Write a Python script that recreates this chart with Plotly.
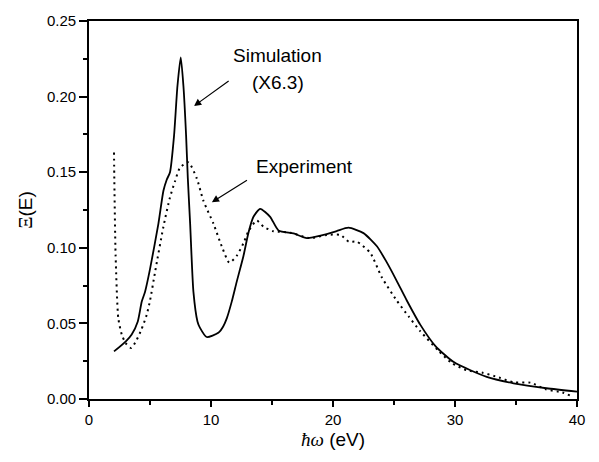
import plotly.graph_objects as go

# Simulation (scaled x6.3)
sim_x = [2.05, 3.0, 3.5, 4.0, 4.32, 4.59, 5.0, 5.69, 6.1, 6.37, 6.64, 6.97, 7.25, 7.52,
         7.74, 7.96, 8.1, 8.29, 8.56, 8.89, 9.1, 9.65, 10.6, 11.0, 11.3, 11.7, 12.1,
         12.66, 13.07, 13.48, 14.03, 14.85, 15.53, 16.76, 17.86, 19.22, 20.3, 21.27,
         22.5, 23.6, 24.4, 25.2, 26.06, 27.15, 28.38, 29.9, 32.6, 34.8, 37.5, 40.0]
sim_y = [0.0315, 0.038, 0.0427, 0.0513, 0.0643, 0.0708, 0.0859, 0.116, 0.1377, 0.145,
         0.150, 0.174, 0.207, 0.226, 0.207, 0.174, 0.146, 0.116, 0.0708, 0.0513, 0.047,
         0.041, 0.0438, 0.048, 0.0535, 0.0644, 0.0773, 0.0946, 0.110, 0.1205, 0.1258,
         0.1205, 0.1115, 0.1095, 0.1064, 0.1085, 0.1111, 0.1133, 0.1097, 0.101, 0.0905,
         0.0785, 0.0650, 0.0492, 0.0352, 0.0244, 0.0146, 0.0104, 0.0071, 0.0049]

# Experiment
exp_x = [2.05, 2.07, 2.18, 2.4, 2.68, 3.0, 3.45, 3.9, 4.3, 4.73, 5.0, 5.41, 6.1, 6.64,
         7.05, 7.46, 8.15, 8.83, 9.38, 10.2, 10.88, 11.5, 12.1, 12.66, 13.07, 13.75,
         14.3, 15.1, 16.5, 18.1, 19.5, 20.6, 21.3, 21.96, 23.05, 24.0, 25.2, 26.2,
         27.15, 28.65, 29.75, 30.98, 32.2, 33.6, 34.8, 36.2, 37.4, 38.8, 39.5]
exp_y = [0.163, 0.1486, 0.095, 0.0535, 0.0427, 0.037, 0.0337, 0.039, 0.046, 0.0557,
         0.065, 0.0837, 0.114, 0.1334, 0.144, 0.153, 0.1565, 0.146, 0.131, 0.116, 0.101,
         0.0902, 0.0946, 0.103, 0.111, 0.118, 0.114, 0.111, 0.110, 0.1064, 0.1085,
         0.1085, 0.104, 0.104, 0.0967, 0.0805, 0.0654, 0.0546, 0.0449, 0.0319, 0.0237,
         0.019, 0.0175, 0.0142, 0.011, 0.0108, 0.0065, 0.0043, 0.0021]

FONT = "Liberation Sans, Arial, sans-serif"
SERIF = "Liberation Serif, Times New Roman, serif"

fig = go.Figure()

fig.add_trace(go.Scatter(
    x=sim_x, y=sim_y, mode="lines", name="Simulation",
    line=dict(color="black", width=1.8, shape="spline", smoothing=0.6)
))
fig.add_trace(go.Scatter(
    x=exp_x, y=exp_y, mode="lines", name="Experiment",
    line=dict(color="black", width=2, dash="2px,4px", shape="spline", smoothing=0.6)
))

# ─── Labels with arrows ─────────────────────
fig.add_annotation(x=15.46, y=0.2275, text="Simulation", showarrow=False,
                   font=dict(family=FONT, size=19, color="black"))
fig.add_annotation(x=15.46, y=0.2094, text="(X6.3)", showarrow=False,
                   font=dict(family=FONT, size=19, color="black"))
fig.add_annotation(x=8.61, y=0.1938, ax=11.57, ay=0.2111, axref="x", ayref="y",
                   text="", showarrow=True, arrowhead=2, arrowsize=1.2,
                   arrowwidth=1.2, arrowcolor="black")

fig.add_annotation(x=17.7, y=0.1535, text="Experiment", showarrow=False,
                   font=dict(family=FONT, size=19, color="black"))
fig.add_annotation(x=10.07, y=0.1302, ax=13.07, ay=0.1453, axref="x", ayref="y",
                   text="", showarrow=True, arrowhead=2, arrowsize=1.2,
                   arrowwidth=1.2, arrowcolor="black")

axis_common = dict(
    showline=True, linecolor="black", linewidth=1.8, mirror=True,
    ticks="outside", tickcolor="black", tickwidth=1.5,
    showgrid=False, zeroline=False,
    tickfont=dict(family=FONT, size=15, color="black"),
)

fig.update_xaxes(
    range=[0, 40], tickvals=[0, 10, 20, 30, 40], ticklen=6,
    minor=dict(ticks="outside", tickvals=[5, 15, 25, 35], ticklen=4,
               tickcolor="black", tickwidth=1.5),
    title=dict(text=f'<span style="font-family:{SERIF}"><i>ħω</i></span> (eV)',
               font=dict(family=FONT, size=19, color="black"), standoff=6),
    **axis_common
)
fig.update_yaxes(
    range=[0, 0.25], tickvals=[0, 0.05, 0.10, 0.15, 0.20, 0.25],
    ticktext=["0.00", "0.05", "0.10", "0.15", "0.20", "0.25"], ticklen=8,
    minor=dict(ticks="outside", tickvals=[0.025, 0.075, 0.125, 0.175, 0.225],
               ticklen=4, tickcolor="black", tickwidth=1.5),
    title=dict(text=f'<span style="font-family:{SERIF}">Ξ</span>(E)',
               font=dict(family=FONT, size=19, color="black"), standoff=9),
    **axis_common
)

fig.update_layout(
    width=599, height=462,
    margin=dict(l=89, r=22, t=13, b=63),
    paper_bgcolor="white", plot_bgcolor="white",
    showlegend=False,
)

# drop the default page margin so the figure fills the window exactly
fig.write_html("out.html", config={"displayModeBar": False},
               post_script="document.body.style.margin='0';document.body.style.overflow='hidden';")
